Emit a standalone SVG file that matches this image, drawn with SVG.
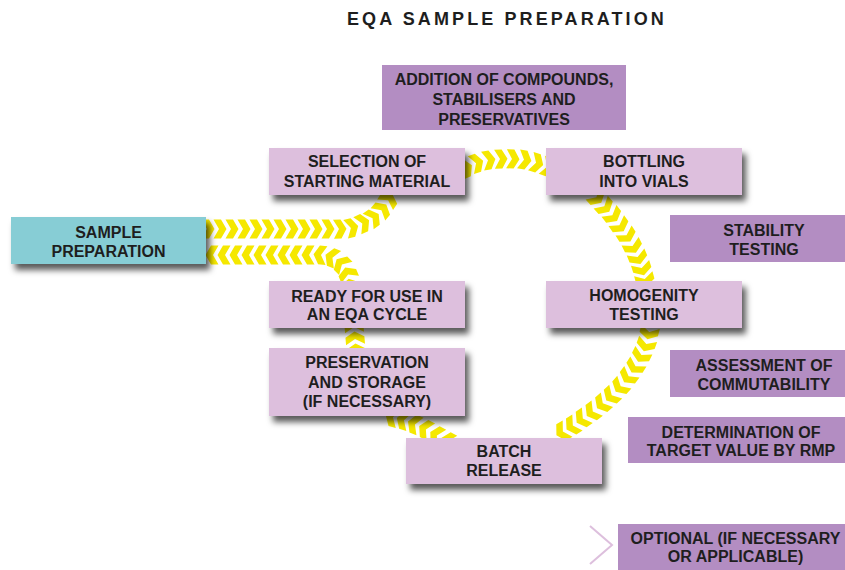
<svg xmlns="http://www.w3.org/2000/svg" width="845" height="570" viewBox="0 0 845 570">
<style>
.lt{fill:#DDBFDD;filter:url(#sh)}
.dk{fill:#B38DC2}
.tl{fill:#87CDD5;filter:url(#sh)}
.t{font-family:"Liberation Sans",Arial,sans-serif;font-weight:bold;font-size:16px;fill:#1E1E1E;text-anchor:middle}
.title{font-family:"Liberation Sans",Arial,sans-serif;font-weight:bold;font-size:18px;fill:#1E1E1E;letter-spacing:3.1px}
.c{fill:none;stroke:none;marker-start:url(#chev);marker-mid:url(#chev);marker-end:url(#chev)}
</style>
<defs>
<filter id="sh" x="-10%" y="-20%" width="130%" height="170%">
<feDropShadow dx="4" dy="6" stdDeviation="3" flood-color="#000" flood-opacity="0.65"/>
</filter>
<marker id="chev" markerUnits="userSpaceOnUse" markerWidth="22" markerHeight="22" viewBox="-11 -11 22 22" refX="0" refY="0" orient="auto">
<polygon points="-6.5,-9.5 1,-9.5 6.5,0 1,9.5 -6.5,9.5 -1,0" fill="#F5E800"/>
</marker>
</defs>
<rect width="845" height="570" fill="#fff"/>
<text class="title" x="347" y="25">EQA SAMPLE PREPARATION</text>
<g id="connectors">
<path class="c" d="M208,229 L220,229 L232,229 L244,229 L256,229 L268,229 L280,229 L292,229 L304,229 L316,229 L328,229 L340,229 L351.9,227.7 L363.2,223 L373.4,217.7 L382.1,209.4 L388.7,199.4"/>
<path class="c" d="M466,168 L477,163 L489,160 L501,159 L513,159 L525,160 L537,163 L548,167"/>
<path class="c" d="M597,198 L605,207 L613,216 L620,226 L627,236 L633,247 L638,258 L642,269 L645,280"/>
<path class="c" d="M649,333 L646,345 L641,356 L635,367 L628,377 L620,387 L611,396 L602,404 L592,412 L582,419 L572,426 L562,432"/>
<path class="c" d="M447,441 L436,435 L425,429 L414,424 L403,420 L392,417"/>
<path class="c" d="M356,350 L355,338 L354,326"/>
<path class="c" d="M350,285 L347.7,273.5 L341.2,263.8 L331.5,257.3 L320,255 L308,255 L296,255 L284,255 L272,255 L260,255 L248,255 L236,255 L224,255 L212,255"/>
</g>
<g id="addition"><rect class="dk" x="382" y="65" width="244" height="65"/>
<text class="t" x="504" y="85">ADDITION OF COMPOUNDS,</text><text class="t" x="504" y="105">STABILISERS AND</text><text class="t" x="504" y="125">PRESERVATIVES</text></g>
<g id="selection"><rect class="lt" x="269" y="148" width="196" height="47"/>
<text class="t" x="367" y="167">SELECTION OF</text><text class="t" x="367" y="187">STARTING MATERIAL</text></g>
<g id="bottling"><rect class="lt" x="546" y="148" width="196" height="47"/>
<text class="t" x="644" y="167">BOTTLING</text><text class="t" x="644" y="187">INTO VIALS</text></g>
<g id="sample"><rect class="tl" x="11" y="217" width="195" height="47"/>
<text class="t" x="108.5" y="238">SAMPLE</text><text class="t" x="108.5" y="257">PREPARATION</text></g>
<g id="stability"><rect class="dk" x="670" y="215" width="176" height="47"/>
<text class="t" x="764" y="236">STABILITY</text><text class="t" x="764" y="255">TESTING</text></g>
<g id="homogenity"><rect class="lt" x="546" y="281" width="196" height="47"/>
<text class="t" x="644" y="301">HOMOGENITY</text><text class="t" x="644" y="320">TESTING</text></g>
<g id="ready"><rect class="lt" x="269" y="281" width="196" height="47"/>
<text class="t" x="367" y="301.5">READY FOR USE IN</text><text class="t" x="367" y="320">AN EQA CYCLE</text></g>
<g id="preservation"><rect class="lt" x="269" y="348" width="196" height="68"/>
<text class="t" x="367" y="368">PRESERVATION</text><text class="t" x="367" y="387.5">AND STORAGE</text><text class="t" x="367" y="407">(IF NECESSARY)</text></g>
<g id="assessment"><rect class="dk" x="670" y="350" width="176" height="47"/>
<text class="t" x="764" y="371">ASSESSMENT OF</text><text class="t" x="764" y="390">COMMUTABILITY</text></g>
<g id="determination"><rect class="dk" x="628" y="417" width="218" height="46"/>
<text class="t" x="741" y="437.5">DETERMINATION OF</text><text class="t" x="741" y="456">TARGET VALUE BY RMP</text></g>
<g id="batch"><rect class="lt" x="406" y="438" width="196" height="46"/>
<text class="t" x="504" y="457">BATCH</text><text class="t" x="504" y="475.5">RELEASE</text></g>
<g id="legend">
<polyline points="590,526 612,545 590,564" fill="none" stroke="#DDBFDD" stroke-width="2"/>
<rect class="dk" x="618" y="524" width="228" height="46"/>
<text class="t" x="735.5" y="543.5">OPTIONAL (IF NECESSARY</text><text class="t" x="735.5" y="561.5">OR APPLICABLE)</text></g>
</svg>
